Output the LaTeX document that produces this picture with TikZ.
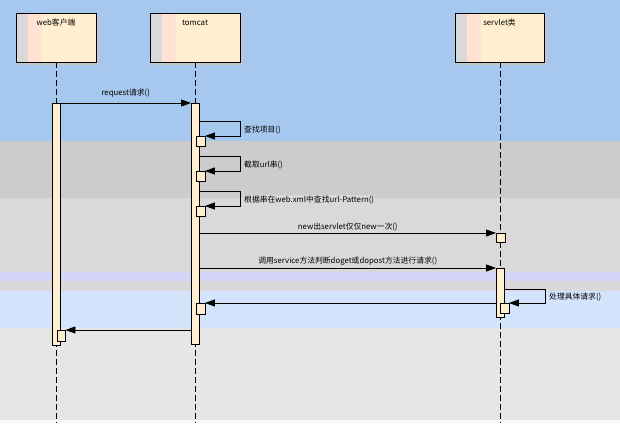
\documentclass[tikz,border=0pt]{standalone}
\usepackage{fontspec}
\setmainfont{Noto Sans CJK SC}
\usetikzlibrary{arrows.meta,positioning}
\definecolor{bandblue}{HTML}{A6C8EE}
\definecolor{bandgray}{HTML}{CCCCCC}
\definecolor{bandlight}{HTML}{D9D9D9}
\definecolor{bandlav}{HTML}{D4D4F8}
\definecolor{bandsky}{HTML}{D4E4FC}
\definecolor{bandpale}{HTML}{E6E6E6}
\definecolor{cream}{HTML}{FFEFD0}
\definecolor{pinkish}{HTML}{FFE2D2}
\tikzset{
  lbl/.style={font=\fontsize{7.8}{8}\selectfont,inner sep=1pt},
  msg/.style={-{Triangle[length=10pt,width=7pt]},thick},
  life/.style={dash pattern=on 6pt off 3pt,thin},
  act/.style={draw,fill=cream,thin},
  box/.style={act,minimum width=8.5pt,inner sep=0pt,anchor=north west},
}
\newcommand{\headbox}[4]{% name, x-left, x-right, text
  \fill[gray!45] (#2+3,16) rectangle (#3+3,65);
  \fill[cream] (#2,13) rectangle (#3,62);
  \fill[gray!30] (#2,13) rectangle (#2+12,62);
  \fill[pinkish] (#2+12,13) rectangle (#2+26,62);
  \draw[thin] (#2,13) rectangle (#3,62);
  \node[lbl] (#1) at ({(#2+#3)/2},23) {#4};}
\begin{document}
\begin{tikzpicture}[x=1pt,y=-1pt]
\useasboundingbox (0,0) rectangle (620,423);
% bands
\fill[bandblue] (0,0) rectangle (620,141);
\fill[bandgray] (0,141) rectangle (620,198);
\fill[bandlight] (0,198) rectangle (620,272);
\fill[bandlav] (0,272) rectangle (620,281);
\fill[bandlight] (0,281) rectangle (620,291);
\fill[bandsky] (0,291) rectangle (620,328);
\fill[bandpale] (0,328) rectangle (620,420);
\fill[gray!5] (0,420) rectangle (620,423);
% heads
\headbox{web}{16}{96}{web客户端}
\headbox{tom}{150}{240}{tomcat}
\headbox{srv}{455}{544}{servlet类}
% lifelines
\foreach \x in {56.5,195.5,500} \draw[life] (\x,62) -- (\x,423);
% activations
\draw[act] (52,103) rectangle (60.5,345);
\draw[act] (191,103) rectangle (199.5,344);
\draw[act] (496,268) rectangle (504.5,317);
\node[box,minimum height=10pt] (b1) at (196,136) {};
\node[box,minimum height=10pt] (b2) at (196,171) {};
\node[box,minimum height=10pt] (b3) at (196,206) {};
\node[box,minimum height=9pt] (b4) at (496,233) {};
\node[box,minimum height=10pt] (b5) at (500,303) {};
\node[box,minimum height=11pt] (b6) at (196,303) {};
\node[box,minimum height=11pt] (b7) at (56.5,330) {};
% messages
\coordinate (r0) at (60.5,103); \coordinate (r1) at (191,103);
\draw[msg] (r0) -- node[lbl,above=4pt] {request请求()} (r1);
\coordinate (s1) at (199.5,121);
\draw[msg] (s1) -- (240,121) |- (b1.north east);
\node[lbl,anchor=west] at (243,130) {查找项目()};
\coordinate (s2) at (199.5,156);
\draw[msg] (s2) -- (240,156) |- (b2.north east);
\node[lbl,anchor=west] at (243,165) {截取url串()};
\coordinate (s3) at (199.5,191);
\draw[msg] (s3) -- (240,191) |- (b3.north east);
\node[lbl,anchor=west,fill=bandlight] at (243,200) {根据串在web.xml中查找url-Pattern()};
\coordinate (n0) at (199.5,233);
\draw[msg] (n0) -- node[lbl,above=1pt] {new出servlet仅仅new一次()} (b4.north west);
\coordinate (c0) at (199.5,268); \coordinate (c1) at (496,268);
\draw[msg] (c0) -- node[lbl,above=1pt] {调用service方法判断doget或dopost方法进行请求()} (c1);
\coordinate (p0) at (504.5,289);
\draw[msg] (p0) -- (545,289) |- (b5.north east);
\node[lbl,anchor=west] at (548,297) {处理具体请求()};
\coordinate (t0) at (496,303);
\draw[msg] (t0) -- (b6.north east);
\coordinate (w0) at (191,330);
\draw[msg] (w0) -- (b7.north east);
\end{tikzpicture}
\end{document}
